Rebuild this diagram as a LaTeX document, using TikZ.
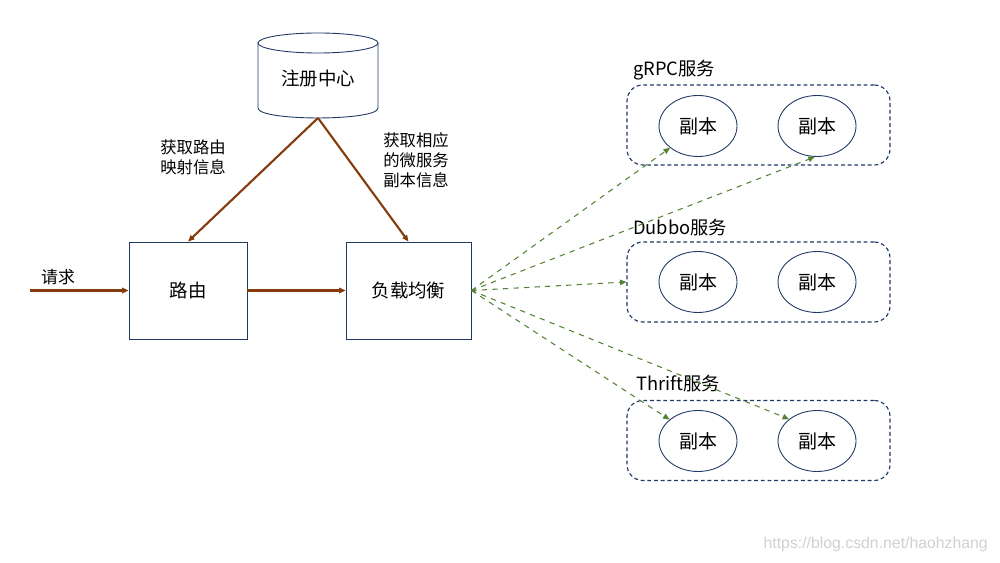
\documentclass[tikz,border=0pt]{standalone}
\usepackage{fontspec}
\setmainfont{Noto Sans CJK SC}
\newfontfamily\wmfont{Liberation Sans}
\usetikzlibrary{arrows.meta,shapes.geometric}
\definecolor{navy}{HTML}{203864}
\definecolor{rust}{HTML}{843C0C}
\definecolor{moss}{HTML}{548235}
\definecolor{mist}{HTML}{D0D0D0}

\begin{document}
\begin{tikzpicture}[x=0.02cm,y=-0.02cm,
    box/.style={draw=navy,line width=0.45pt,minimum height=1.94cm,font=\fontsize{10.5}{12}\selectfont},
    replica/.style={draw=navy,ellipse,line width=0.5pt,minimum width=1.56cm,minimum height=1.22cm,font=\fontsize{10.8}{12}\selectfont},
    group/.style={draw=navy,dash pattern=on 2.2pt off 1.6pt,rounded corners=9pt,line width=0.65pt,minimum width=5.26cm,minimum height=1.6cm},
    flow/.style={draw=rust,line width=1.2pt,-{Triangle[length=1.3mm,width=1.1mm]}},
    pick/.style={draw=moss,dashed,line width=0.6pt,-{Triangle[length=1.3mm,width=1.1mm]}},
    note/.style={font=\fontsize{9.3}{11.3}\selectfont,align=left}]
    \useasboundingbox (0,0) rectangle (1000,563);
    % registry cylinder
    \node[minimum width=2.4cm,minimum height=1.7cm,font=\fontsize{10.5}{12}\selectfont] (reg) at (318,79) {注册中心};
    \draw[navy,line width=0.5pt] (258,43) -- (258,108) .. controls (258,121.3) and (378,121.3) .. (378,108) -- (378,43);
    \draw[navy,line width=0.5pt] (318,43) ellipse [x radius=60,y radius=10];
    \coordinate (regb) at (318,118);
    % main boxes
    \node[box,minimum width=2.36cm] (route) at (188,290.5) {路由};
    \node[box,minimum width=2.5cm] (lb) at (408.5,290.5) {负载均衡};
    \coordinate (req) at (30,290.5);
    \node[font=\fontsize{9.6}{11}\selectfont] (reqlbl) at (58,277) {请求};
    \draw[flow] (req) -- (route.west);
    \draw[flow] (route.east) -- (lb.west);
    \draw[flow] (regb) -- (route.north);
    \draw[flow] (regb) -- (lb.north);
    \node[note] (lbl1) at (193,157) {获取路由\\映射信息};
    \node[note] (lbl2) at (416,160) {获取相应\\的微服务\\副本信息};
    % service groups
    \node[group] (grpc) at (758.5,125) {};
    \node[group] (dubbo) at (758.5,282) {};
    \node[group] (thrift) at (758.5,440.5) {};
    \node[anchor=west,font=\fontsize{10.4}{12}\selectfont] (grpclbl) at (627,70) {gRPC服务};
    \node[anchor=west,font=\fontsize{10.4}{12}\selectfont] (dubbolbl) at (627,228) {Dubbo服务};
    \node[anchor=west,font=\fontsize{10.4}{12}\selectfont] (thriftlbl) at (630,384) {Thrift服务};
    \node[replica] (g1) at (698,126) {副本};
    \node[replica] (g2) at (817,126) {副本};
    \node[replica] (d1) at (698,282) {副本};
    \node[replica] (d2) at (817,282) {副本};
    \node[replica] (t1) at (698,441) {副本};
    \node[replica] (t2) at (817,441) {副本};
    % dispatch
    \draw[pick] (lb.east) -- (g1.-142);
    \draw[pick] (lb.east) -- (g2.-94);
    \draw[pick] (lb.east) -- (dubbo.west);
    \draw[pick] (lb.east) -- (t1.143);
    \draw[pick] (lb.east) -- (t2.142);
    \node[anchor=east,text=mist,font=\wmfont\fontsize{9}{10}\selectfont] (wm) at (994,544) {https://blog.csdn.net/haohzhang};
\end{tikzpicture}
\end{document}
